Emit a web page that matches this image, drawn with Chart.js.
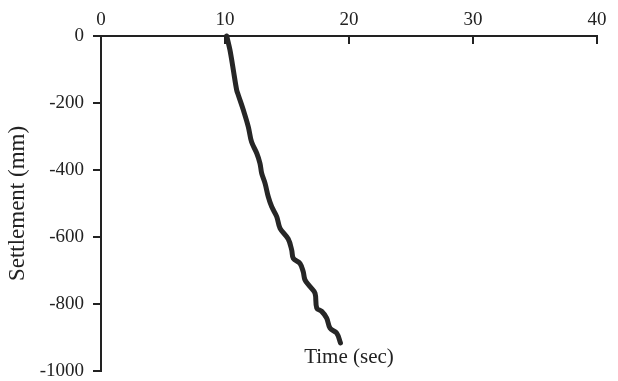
<!DOCTYPE html>
<html lang="en">
<head>
    <meta charset="UTF-8">
    <title>Settlement vs Time</title>
    <script src="https://cdn.jsdelivr.net/npm/chart.js"></script>
    <style>
        * { margin: 0; padding: 0; box-sizing: border-box; }
        body { background: #ffffff; width: 618px; height: 381px; overflow: hidden; }
        #chart { display: block; }
    </style>
</head>
<body>
    <canvas id="chart" width="618" height="381"></canvas>

    <script>
        const timeSec = [10.14, 10.40, 10.67, 10.94, 11.07, 11.48, 11.88, 12.14, 12.56, 12.82, 12.96, 13.23, 13.49, 13.77, 14.17, 14.44, 15.10, 15.38, 15.51, 16.05, 16.31, 16.45, 16.85, 17.26, 17.40, 17.80, 18.20, 18.47, 19.01, 19.31];
        const settlementMm = [0, -42, -101, -161, -176, -221, -271, -316, -350, -380, -410, -440, -480, -510, -539, -574, -606, -639, -664, -679, -704, -728, -748, -768, -812, -822, -842, -872, -887, -916];
        const xTicks = [0, 10, 20, 30, 40];
        const yTicks = [0, -200, -400, -600, -800, -1000];

        const ink = '#222222';
        const serif = "'Liberation Serif', 'DejaVu Serif', serif";

        // x ticks point down into the plot, and the x title sits inside the plot near the bottom
        const extras = {
            id: 'extras',
            afterDraw(chart) {
                const ctx = chart.ctx;
                const xs = chart.scales.x;
                const area = chart.chartArea;
                ctx.save();
                ctx.strokeStyle = ink;
                ctx.lineWidth = 2;
                xTicks.forEach(v => {
                    const px = Math.round(xs.getPixelForValue(v));
                    ctx.beginPath();
                    ctx.moveTo(px, area.top);
                    ctx.lineTo(px, area.top + 8);
                    ctx.stroke();
                });
                ctx.fillStyle = ink;
                ctx.font = '21px ' + serif;
                ctx.textAlign = 'center';
                ctx.textBaseline = 'middle';
                ctx.fillText('Time (sec)', (area.left + area.right) / 2, 357);
                ctx.restore();
            }
        };

        new Chart(document.getElementById('chart'), {
            type: 'line',
            data: {
                datasets: [{
                    data: timeSec.map((t, i) => ({ x: t, y: settlementMm[i] })),
                    borderColor: '#262626',
                    borderWidth: 5,
                    pointRadius: 0,
                    tension: 0.35,
                    borderCapStyle: 'round',
                    borderJoinStyle: 'round',
                    clip: false
                }]
            },
            options: {
                responsive: false,
                animation: false,
                layout: { padding: { top: 0, right: 21, bottom: 10, left: 0 } },
                plugins: { legend: { display: false }, tooltip: { enabled: false } },
                scales: {
                    x: {
                        type: 'linear',
                        position: 'top',
                        min: 0,
                        max: 40,
                        afterBuildTicks: s => { s.ticks = xTicks.map(v => ({ value: v })); },
                        afterFit: s => { s.height = 36; s.paddingLeft = 0; s.paddingRight = 0; },
                        border: { color: ink, width: 2 },
                        grid: { drawOnChartArea: false, drawTicks: false },
                        ticks: { color: ink, font: { family: serif, size: 19 }, padding: 5 }
                    },
                    y: {
                        type: 'linear',
                        min: -1000,
                        max: 0,
                        afterBuildTicks: s => { s.ticks = yTicks.map(v => ({ value: v })); },
                        afterFit: s => { s.width = 101; s.paddingTop = 0; s.paddingBottom = 0; },
                        border: { color: ink, width: 2 },
                        grid: { drawOnChartArea: false, tickLength: 8, color: ink, lineWidth: 2 },
                        ticks: {
                            color: ink,
                            font: { family: serif, size: 19 },
                            padding: 9,
                            callback: v => String(v)
                        },
                        title: {
                            display: true,
                            text: 'Settlement (mm)',
                            color: ink,
                            font: { family: serif, size: 23 },
                            padding: { top: 4, bottom: 0 }
                        }
                    }
                }
            },
            plugins: [extras]
        });
    </script>
</body>
</html>
